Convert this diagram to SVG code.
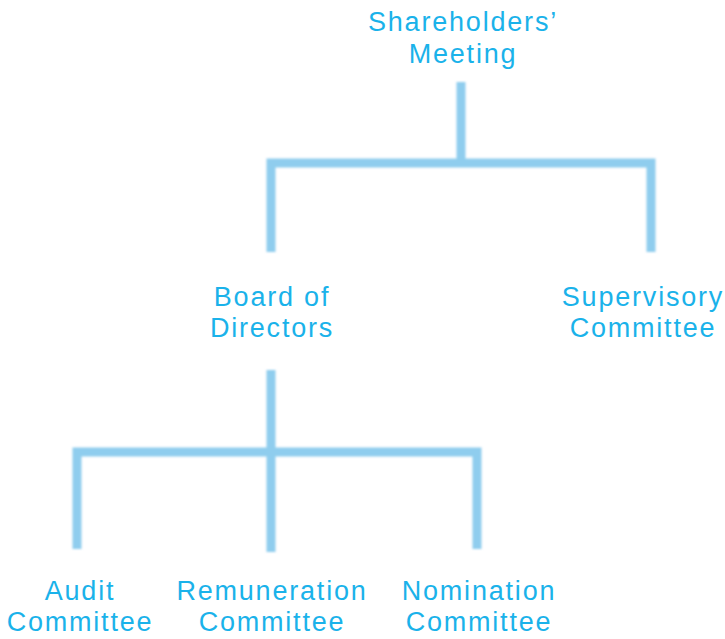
<svg xmlns="http://www.w3.org/2000/svg" width="725" height="639" viewBox="0 0 725 639">
<defs>
<style>
.lbl{font-family:"Liberation Sans",Arial,sans-serif;font-size:27px;fill:#1ab2ea;text-anchor:middle;letter-spacing:1.8px}
.ln{stroke:#8fcdee;stroke-width:9;fill:none;stroke-linecap:butt;stroke-linejoin:miter}
</style>
<filter id="soft" x="-10%" y="-10%" width="120%" height="120%"><feGaussianBlur stdDeviation="0.8"/></filter>
</defs>
<rect width="725" height="639" fill="#ffffff"/>
<g id="connectors" filter="url(#soft)">
<path class="ln" d="M461,82 V162"/>
<path class="ln" d="M271,252 V163 H651 V252"/>
<path class="ln" d="M271,370 V552"/>
<path class="ln" d="M77,549 V452 H477 V549"/>
</g>
<g id="shareholders"><text class="lbl" x="463" y="31">Shareholders’</text><text class="lbl" x="463" y="63">Meeting</text></g>
<g id="board"><text class="lbl" x="272" y="306">Board of</text><text class="lbl" x="272" y="337">Directors</text></g>
<g id="supervisory"><text class="lbl" x="643" y="306">Supervisory</text><text class="lbl" x="643" y="337">Committee</text></g>
<g id="audit"><text class="lbl" x="80" y="600">Audit</text><text class="lbl" x="80" y="631">Committee</text></g>
<g id="remuneration"><text class="lbl" x="272" y="600">Remuneration</text><text class="lbl" x="272" y="631">Committee</text></g>
<g id="nomination"><text class="lbl" x="479" y="600">Nomination</text><text class="lbl" x="479" y="631">Committee</text></g>
</svg>
